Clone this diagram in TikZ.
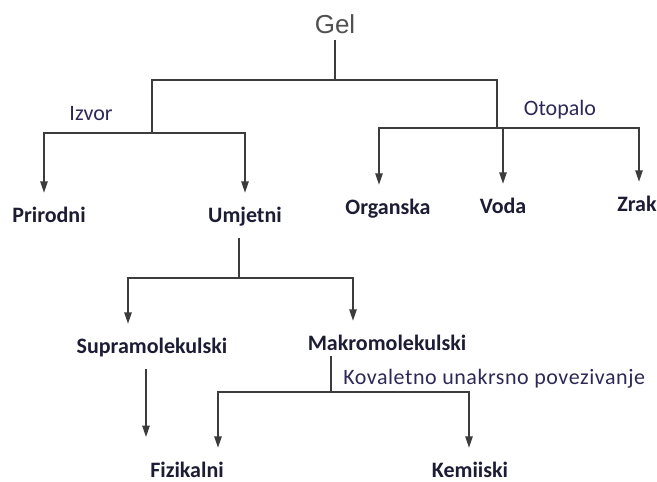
\documentclass[tikz,border=0pt]{standalone}
\usepackage{fontspec}
\setmainfont{Carlito}
\newfontfamily\gelfont{Liberation Sans}
\usepackage{tikz}
\usetikzlibrary{arrows.meta,calc}
\definecolor{cline}{HTML}{3C3C3C}
\definecolor{ccat}{HTML}{1C1C34}
\definecolor{ccrit}{HTML}{2E2858}
\definecolor{cgel}{HTML}{505050}
\tikzset{
  root/.style={font=\gelfont\fontsize{19.5}{22}\selectfont, text=cgel,
               anchor=base, text depth=0pt, inner xsep=0pt, inner ysep=5pt},
  cat/.style={font=\bfseries\fontsize{16.5}{19}\selectfont, text=ccat, anchor=base,
              text height=11.25pt, text depth=1.65pt, inner xsep=0pt, inner ysep=10.5pt},
  crit/.style={font=\fontsize{16.5}{19}\selectfont, text=ccrit, anchor=base, inner sep=0pt},
  link/.style={draw=cline, line width=1.1pt},
  flow/.style={link, -{Triangle[length=8.5pt, width=5.5pt]}}
}
\begin{document}
\begin{tikzpicture}[x=0.75pt, y=-0.75pt]
\useasboundingbox (0,0) rectangle (657,482);
% labels
\node[root] (gel) at (335,33) {Gel};
\node[cat] (prirodni) at (49,222) {Prirodni};
\node[cat] (umjetni) at (245,222) {Umjetni};
\node[cat] (organska) at (388,214) {Organska};
\node[cat] (voda) at (503,213) {Voda};
\node[cat] (zrak) at (637,211) {Zrak};
\node[cat] (supra) at (152,353) {Supramolekulski};
\node[cat] (makro) at (387,350) {Makromolekulski};
\node[cat] (fiz) at (187,477) {Fizikalni};
\node[cat] (kem) at (470,477) {Kemiiski};
\node[crit] (izvor) at (91,120) {Izvor};
\node[crit] (otopalo) at (560,115) {Otopalo};
\node[crit, anchor=base west] (kovalent) at (343,384)
  {\addfontfeature{LetterSpace=2.5}Kovaletno unakrsno povezivanje};
% junctions
\coordinate (top) at (335,80);
\coordinate (hubL) at (152,133);
\coordinate (hubR) at (497,128);
\coordinate (hubU) at (239,278);
\coordinate (hubM) at (331,392);
\coordinate (supraend) at (146,437);
% top split
\draw[link] (gel.south) -- (top);
\draw[link] (hubL) |- (top) -| (hubR);
% Izvor
\draw[flow] (hubL) -| ($(prirodni.north)+(-5,0)$);
\draw[flow] (hubL) -| (umjetni.north);
% Otopalo
\draw[flow] (hubR) -| ($(organska.north)+(-9,0)$);
\draw[flow] (hubR) -| ($(zrak.north)+(2,0)$);
\draw[flow] (hubR -| voda.north) -- (voda.north);
% Umjetni
\draw[link] ($(umjetni.south)+(-6,0)$) -- (hubU);
\draw[flow] (hubU) -| ($(supra.north)+(-24,0)$);
\draw[flow] (hubU) -| ($(makro.north)+(-34,0)$);
\draw[flow] ($(supra.south)+(-6,0)$) -- (supraend);
% Makromolekulski
\draw[link] ($(makro.south)+(-56,-10)$) -- (hubM);
\draw[flow] (hubM) -| ($(fiz.north)+(31,0)$);
\draw[flow] (hubM) -| ($(kem.north)+(-1,0)$);
\end{tikzpicture}
\end{document}
